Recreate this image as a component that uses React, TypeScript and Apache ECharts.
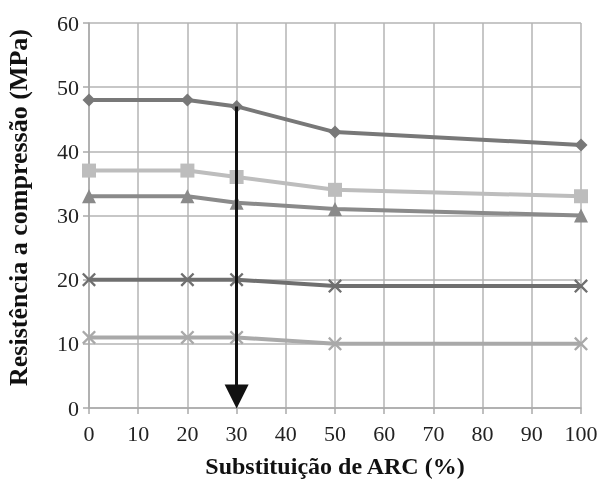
import React, { useEffect, useRef } from "react";
import * as echarts from "echarts";

const xValues = [0, 20, 30, 50, 100];
const seriesDiamond = [48, 48, 47, 43, 41];
const seriesSquare = [37, 37, 36, 34, 33];
const seriesTriangle = [33, 33, 32, 31, 30];
const seriesCrossDark = [20, 20, 20, 19, 19];
const seriesCrossLight = [11, 11, 11, 10, 10];
const arrowX = 30;
const arrowFrom = 47;
const arrowTo = 0;

const crossPath =
  "path://M0,1.2L1.2,0L5,3.8L8.8,0L10,1.2L6.2,5L10,8.8L8.8,10L5,6.2L1.2,10L0,8.8L3.8,5Z";

const pair = (ys: number[]) => xValues.map((x, i) => [x, ys[i]]);

export default function App() {
  const ref = useRef<HTMLDivElement>(null);
  useEffect(() => {
    const chart = echarts.init(ref.current!, null, { renderer: "svg" });
    const font = "Liberation Serif";
    const mk = (data: number[], color: string, symbol: string, size: number, z: number) => ({
      type: "line",
      data: pair(data),
      symbol,
      symbolSize: size,
      lineStyle: { color, width: 4 },
      itemStyle: { color },
      z,
    });
    chart.setOption({
      animation: false,
      textStyle: { fontFamily: font },
      grid: {
        left: 89,
        right: 17,
        top: 23,
        bottom: 73,
        containLabel: false,
        outerBoundsMode: "none",
      },
      xAxis: {
        type: "value",
        min: 0,
        max: 100,
        interval: 10,
        name: "Substituição de ARC (%)",
        nameLocation: "middle",
        nameGap: 46,
        nameTextStyle: { fontFamily: font, fontWeight: "bold", fontSize: 24, color: "#111" },
        axisLine: { show: true, lineStyle: { color: "#aaa", width: 1.5 } },
        axisTick: { show: true, length: 6, lineStyle: { color: "#aaa", width: 1.5 } },
        axisLabel: { fontFamily: font, fontSize: 22, color: "#222", margin: 14 },
        splitLine: { show: true, lineStyle: { color: "#b5b5b5", width: 1.5 } },
      },
      yAxis: {
        type: "value",
        min: 0,
        max: 60,
        interval: 10,
        name: "Resistência a compressão (MPa)",
        nameLocation: "middle",
        nameGap: 58,
        nameTextStyle: {
          fontFamily: font,
          fontWeight: "bold",
          fontSize: 26,
          color: "#111",
          padding: [0, 0, 0, 16],
        },
        axisLine: { show: true, lineStyle: { color: "#aaa", width: 1.5 } },
        axisTick: { show: true, length: 6, lineStyle: { color: "#aaa", width: 1.5 } },
        axisLabel: { fontFamily: font, fontSize: 22, color: "#222", margin: 10 },
        splitLine: { show: true, lineStyle: { color: "#b5b5b5", width: 1.5 } },
      },
      series: [
        mk(seriesCrossLight, "#a9a9a9", crossPath, 14, 2),
        mk(seriesCrossDark, "#6f6f6f", crossPath, 14, 2),
        mk(seriesTriangle, "#8a8a8a", "triangle", 14, 2),
        mk(seriesSquare, "#bdbdbd", "rect", 14, 2),
        mk(seriesDiamond, "#787878", "diamond", 13, 2),
        {
          type: "line",
          data: [
            [arrowX, arrowFrom],
            [arrowX, arrowTo],
          ],
          symbol: "none",
          lineStyle: { width: 0, opacity: 0 },
          z: 5,
          markLine: {
            silent: true,
            symbol: ["none", "triangle"],
            symbolSize: [24, 24],
            label: { show: false },
            lineStyle: { color: "#111", width: 3, type: "solid" },
            data: [[{ coord: [arrowX, arrowFrom] }, { coord: [arrowX, arrowTo + 1.8] }]],
          },
        },
      ],
    });
    return () => chart.dispose();
  }, []);
  return (
    <div
      ref={ref}
      style={{ position: "fixed", left: 0, top: 0, width: 598, height: 481 }}
    />
  );
}
